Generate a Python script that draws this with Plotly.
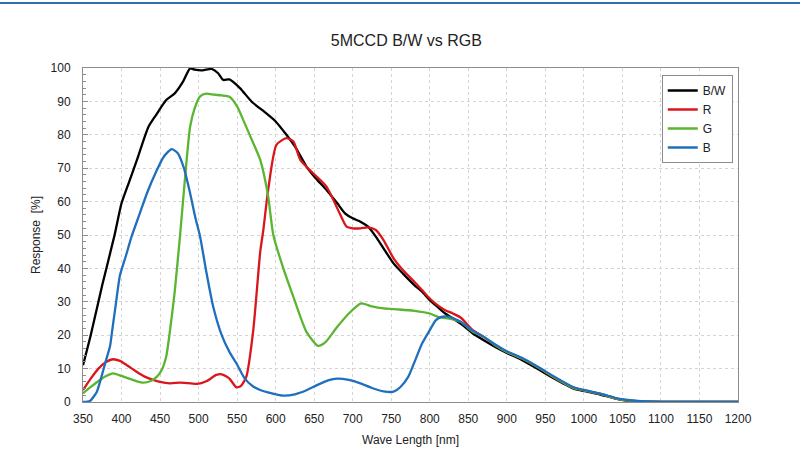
import plotly.graph_objects as go

# Spectral response (wavelength in nm, response in %)
bw_nm = [350, 360, 375, 391, 400, 410, 420, 435, 445, 458, 469, 480, 489, 495, 505, 517, 525,
         532, 540, 554, 569, 588, 600, 614, 625, 640, 652, 666, 680, 690, 700, 710, 720, 730,
         740, 753, 765, 780, 790, 800, 810, 820, 830, 840, 856, 870, 885, 900, 920, 943, 960,
         986, 1000, 1020, 1047, 1070, 1100, 1150, 1200]
bw_val = [11, 20, 35, 50, 59.5, 66, 72.5, 82.4, 86, 90.4, 92.4, 96, 99.9, 99.5, 99.3, 99.7, 98.5,
          96.4, 96.6, 93.9, 89.9, 86.4, 84, 80, 76.5, 70.5, 67, 63.5, 59.5, 56.5, 55, 54, 52.5, 49.5,
          46, 41.5, 38.5, 35, 33, 30.5, 28.5, 26.5, 25, 23.5, 20.5, 18.5, 16.5, 14.7, 12.5, 9.5, 7.2,
          4.1, 3.3, 2.3, 0.7, 0.2, 0.05, 0, 0]

r_nm = [350, 360, 370, 380, 389, 398, 407, 420, 430, 441, 450, 463, 476, 490, 498, 510, 523,
        530, 540, 549, 555, 562, 571, 580, 584, 590, 601, 614, 623, 632, 649, 666, 683, 692,
        700, 710, 720, 730, 740, 753, 765, 780, 790, 800, 810, 820, 830, 840, 856, 870, 885,
        900, 920, 943, 960, 986, 1000, 1020, 1047, 1070, 1100, 1150, 1200]
r_val = [3.6, 7, 10, 12, 12.8, 12.3, 11, 9, 7.6, 6.6, 6, 5.6, 5.8, 5.6, 5.4, 6.2, 8.1,
         8.3, 7, 4.4, 4.8, 7.6, 21.6, 45, 51.5, 63, 77, 79, 78, 72.5, 68.4, 64.5, 56.5, 52.5,
         52, 52, 52.3, 51.5, 48.5, 43, 39.5, 36, 33.5, 31, 29, 27.5, 26.5, 25.3, 21.5, 19.5, 17,
         15, 13, 10, 7.5, 4.3, 3.5, 2.5, 0.8, 0.25, 0.05, 0, 0]

g_nm = [350, 360, 370, 380, 389, 400, 410, 420, 428, 438, 446, 452, 458, 463, 469, 476, 482,
        489, 495, 502, 510, 520, 530, 540, 550, 558, 570, 580, 590, 597, 610, 623, 640, 655,
        665, 680, 695, 711, 725, 740, 760, 780, 800, 813, 825, 840, 856, 870, 885, 900, 920,
        943, 960, 986, 1000, 1020, 1047, 1070, 1100, 1150, 1200]
g_val = [2.6, 4.5, 6.3, 7.8, 8.6, 7.8, 7, 6.2, 5.8, 6.3, 7.6, 9.5, 13.6, 21.6, 33, 50, 66,
         82.4, 88, 91.5, 92.3, 92, 91.8, 91.4, 88.5, 84.4, 78, 72.5, 62, 50, 40, 31.5, 21, 16.8,
         18, 22.5, 26.5, 29.5, 28.6, 28, 27.7, 27.3, 26.5, 25.3, 25, 24, 21, 19.5, 17, 15, 13,
         10, 7.6, 4.3, 3.5, 2.5, 0.8, 0.25, 0.05, 0, 0]

b_nm = [350, 359, 368, 374, 380, 385, 388, 393, 398, 406, 413, 423, 433, 445, 455, 465, 473,
        481, 489, 496, 502, 510, 519, 530, 540, 549, 560, 570, 580, 595, 610, 625, 640, 655,
        668, 680, 695, 710, 725, 740, 753, 762, 772, 782, 790, 800, 808, 815, 825, 840, 856,
        870, 885, 900, 920, 943, 960, 986, 1000, 1020, 1047, 1070, 1100, 1150, 1200]
b_val = [0, 0.3, 3.1, 7.6, 12.6, 16.6, 21.6, 30, 38, 44, 49.5, 56, 62.5, 69, 73.5, 75.7, 74.5,
         70, 62.5, 55, 49.5, 39, 28.5, 20, 15, 11.6, 7, 4.8, 3.6, 2.6, 1.9, 2.3, 3.5, 5.2,
         6.5, 7, 6.6, 5.6, 4.2, 3.2, 3.1, 4.5, 7.5, 13, 17.5, 21.5, 24.5, 25.5, 25.5, 24, 21.3,
         19.5, 17.2, 15.2, 13.2, 10.2, 7.8, 4.5, 3.6, 2.6, 0.9, 0.3, 0.05, 0, 0]

x_ticks = list(range(350, 1201, 50))
y_ticks = list(range(0, 101, 10))

series = [
    ("B/W", bw_nm, bw_val, "#000000"),
    ("R", r_nm, r_val, "#d9161c"),
    ("G", g_nm, g_val, "#5ab531"),
    ("B", b_nm, b_val, "#1f6fbd"),
]

fig = go.Figure()
for name, xs, ys, col in series:
    fig.add_trace(go.Scatter(x=xs, y=ys, name=name, mode="lines",
                             line=dict(color=col, width=2.3, shape="spline", smoothing=0.6)))

grid = dict(showgrid=True, gridcolor="#d4d4d4", griddash="dot", gridwidth=1,
            showline=True, linecolor="#8c8c8c", linewidth=1, mirror=True, zeroline=False)

fig.update_layout(
    width=800, height=461,
    margin=dict(l=83, r=62, t=68, b=59),
    paper_bgcolor="white", plot_bgcolor="white",
    font=dict(family="Liberation Sans, Arial, sans-serif", size=12, color="#222222"),
    title=dict(text="5MCCD B/W vs RGB", x=0.508, xanchor="center", y=0.913, yanchor="middle",
               font=dict(size=16, color="#222222")),
    xaxis=dict(range=[350, 1200], tickvals=x_ticks, ticks="", ticklen=0, ticklabelstandoff=6,
               title=dict(text="Wave Length [nm]", standoff=10, font=dict(size=12)), **grid),
    yaxis=dict(range=[0, 100], tickvals=y_ticks, ticks="inside", ticklen=5, tickcolor="#8c8c8c",
               ticklabelstandoff=9,
               minor=dict(dtick=2, ticks="inside", ticklen=3, tickcolor="#8c8c8c", showgrid=False),
               title=dict(text="Response  [%]", standoff=7, font=dict(size=12)), **grid),
    legend=dict(x=0.992, xanchor="right", y=0.979, yanchor="top",
                bordercolor="#8c8c8c", borderwidth=1, bgcolor="white",
                font=dict(size=12), itemwidth=30, tracegroupgap=0),
    showlegend=True,
    shapes=[dict(type="line", xref="paper", yref="paper", x0=-0.2, x1=1.2,
                 y0=(402 - 3) / 334, y1=(402 - 3) / 334,
                 line=dict(color="#2d6fb7", width=2))],
)

fig.write_html("out.html", config={"displayModeBar": False},
               post_script="document.body.style.margin='0';")
